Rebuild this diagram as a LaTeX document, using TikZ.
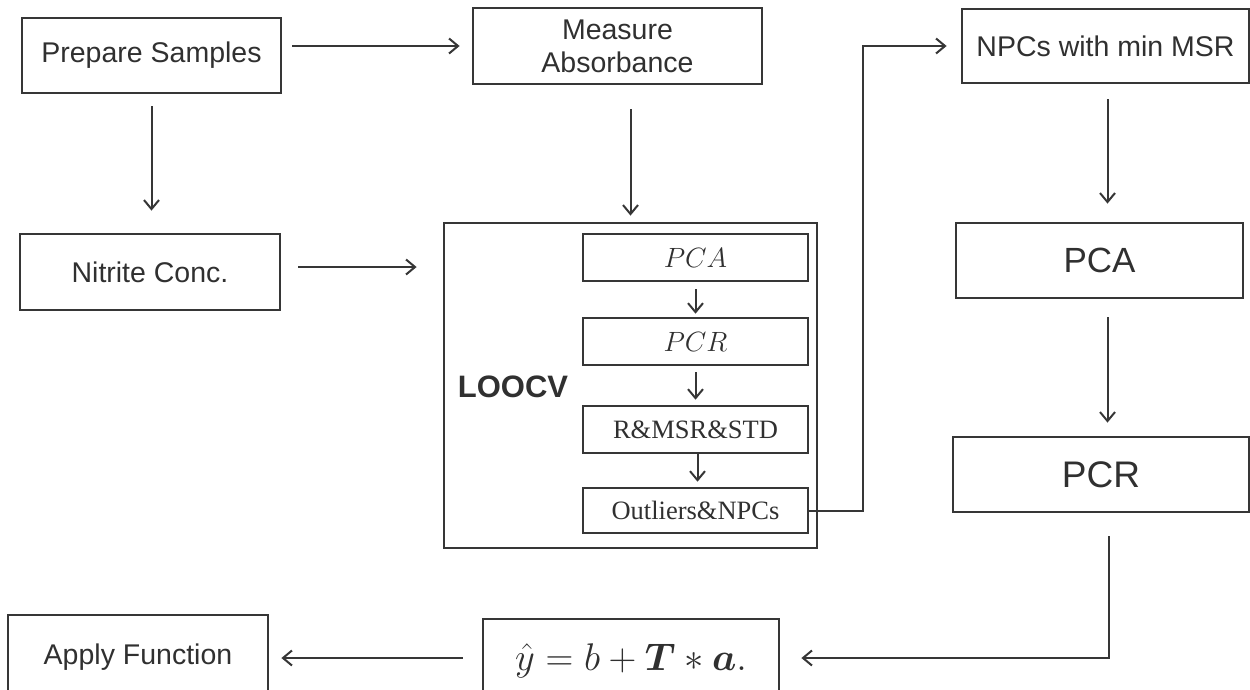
\documentclass[tikz,border=0pt]{standalone}
\usepackage{amsmath}
\usepackage{bm}
\usepackage{fontspec}
\setmainfont{Liberation Sans}
\newfontfamily\serifcam{Liberation Serif}
\usetikzlibrary{arrows.meta,calc}
\definecolor{ln}{HTML}{363636}
\definecolor{tx}{HTML}{303030}
\begin{document}
\begin{tikzpicture}[x=1pt,y=-1pt,
  box/.style={draw=ln,line width=2.8pt,text=tx,inner sep=0pt,align=center,
    font=\fontsize{28.5}{33}\selectfont},
  ibox/.style={draw=ln,line width=2.6pt,text=tx,inner sep=0pt,align=center,
    minimum width=225pt,font=\serifcam\fontsize{26.5}{30}\selectfont},
  arr/.style={draw=ln,line width=2pt,-{Straight Barb[length=9pt,width=15pt,line width=2pt]}},
  plain/.style={draw=ln,line width=2pt}]
\useasboundingbox (0,0) rectangle (1250,689);
\clip (0,0) rectangle (1250,689);
% top-left
\node[box,minimum width=259pt,minimum height=75pt] (prep) at (151.5,55.5) {Prepare Samples};
\node[box,minimum width=289pt,minimum height=76pt] (meas) at (617.5,46) {Measure\\Absorbance};
\node[box,minimum width=260pt,minimum height=76pt] (nitr) at (150,272) {Nitrite Conc.};
% LOOCV
\node[draw=ln,line width=2.8pt,minimum width=373pt,minimum height=325pt,inner sep=0pt] (loocv) at (630.5,385.5) {};
\node[text=tx,font=\bfseries\fontsize{31}{35}\selectfont] (lbl) at (513,387) {LOOCV};
\node[ibox,minimum height=47pt] (pcai) at (695.5,257.5) {\scalebox{1.12}{$PCA$}};
\node[ibox,minimum height=47pt] (pcri) at (695.5,341.5) {\scalebox{1.12}{$PCR$}};
\node[ibox,minimum height=47pt] (rms) at (695.5,429.5) {R\&MSR\&STD};
\node[ibox,minimum height=45pt] (outl) at (695.5,510.5) {Outliers\&NPCs};
% right column
\node[box,minimum width=287pt,minimum height=74pt] (npcs) at (1105.5,46) {NPCs with min MSR};
\node[box,minimum width=287pt,minimum height=75pt,font=\fontsize{35}{40}\selectfont] (pcaR) at (1099.5,260.5) {PCA};
\node[box,minimum width=296pt,minimum height=75pt,font=\fontsize{37}{42}\selectfont] (pcrR) at (1101,474.5) {PCR};
% bottom row
\node[box,minimum width=260pt,minimum height=84pt] (apply) at (138,657) {Apply Function};
\node[box,minimum width=296pt,minimum height=84pt] (yhat) at (631,661) {\scalebox{1.55}{$\hat{y} = b + \bm{T} * \bm{a}.$}};
\coordinate (c1) at (1109,658);
\coordinate (c2) at (863,510.5);
% connectors
\draw[arr,shorten <=10pt,shorten >=12pt] (prep.east |- meas.west) -- (meas.west);
\draw[arr,shorten <=12pt,shorten >=22pt] (prep.south) -- (prep.south |- nitr.north);
\draw[arr,shorten <=17pt,shorten >=26pt] ([yshift=5pt]nitr.east) -- ([yshift=5pt]nitr.east -| loocv.west);
\draw[arr,shorten <=24pt,shorten >=6pt] (loocv.north |- meas.south) -- (loocv.north);
\draw[arr,shorten <=7pt,shorten >=3pt] (pcai.south) -- (pcri.north);
\draw[arr,shorten <=6pt,shorten >=5pt] (pcri.south) -- (rms.north);
\draw[arr,shorten >=5pt] ([xshift=2pt]rms.south) -- ([xshift=2pt]rms.south |- outl.north);
\draw[arr,shorten >=14pt] (outl.east) -- (c2) |- (npcs.west);
\draw[arr,shorten <=15pt,shorten >=18pt] ([xshift=2pt]npcs.south) -- ([xshift=2pt]npcs.south |- pcaR.north);
\draw[arr,shorten <=18pt,shorten >=13pt] ([xshift=8pt]pcaR.south) -- ([xshift=8pt]pcaR.south |- pcrR.north);
\draw[arr,shorten >=21pt] (pcrR.south -| c1) ++(0,23) -- (c1) -- (c1 -| yhat.east);
\draw[arr,shorten <=19pt,shorten >=12pt] (yhat.west |- c1) -- (apply.east |- c1);
\end{tikzpicture}
\end{document}
